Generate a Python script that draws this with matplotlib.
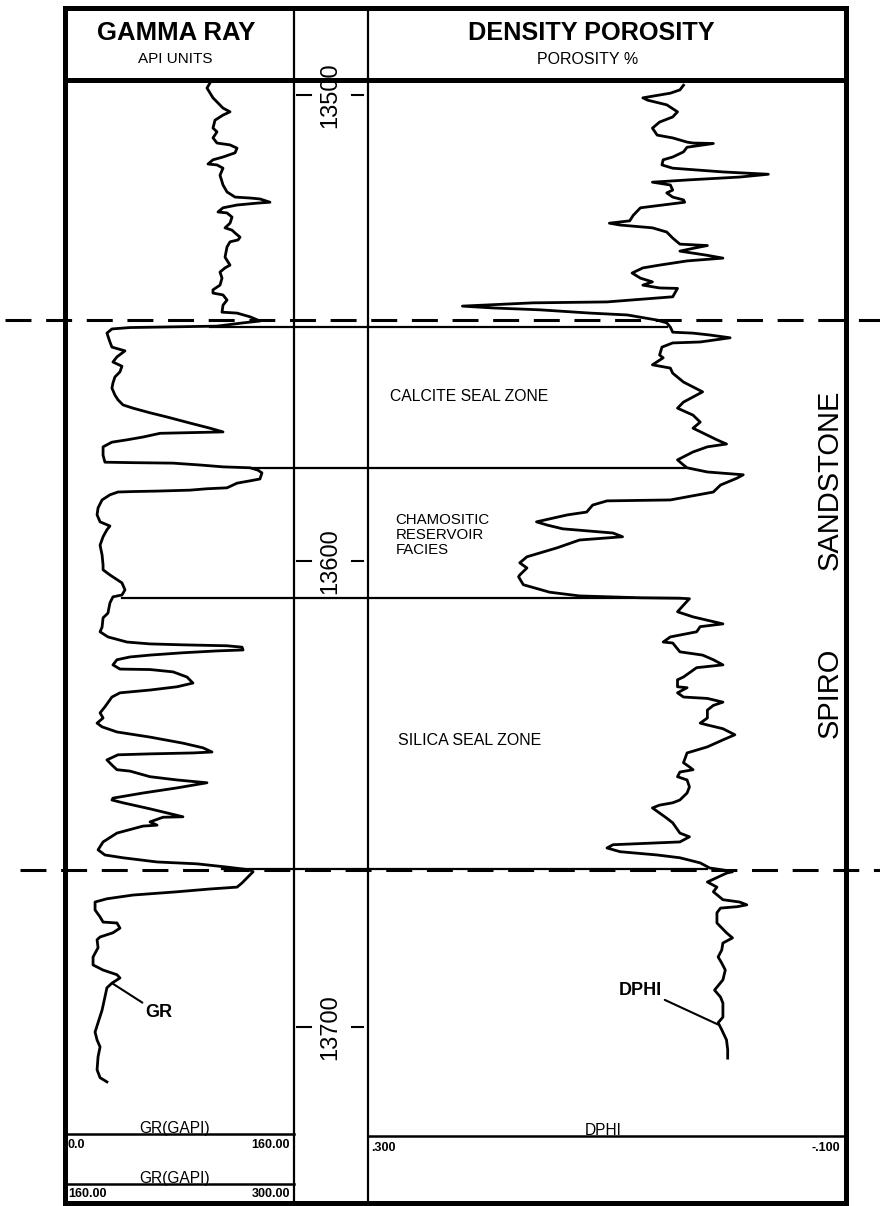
import matplotlib
matplotlib.use("Agg")
import matplotlib.pyplot as plt
import matplotlib.transforms as mtransforms
from matplotlib.lines import Line2D
from matplotlib import font_manager

plt.rcParams['font.family'] = ['Liberation Sans', 'DejaVu Sans']

# ---------------- data ----------------
GR_DEPTH = [
    13497.4, 13498.5, 13500.6, 13502.8, 13503.6, 13504.3, 13505.4, 13507.1, 13507.9, 13509.2,
    13510.3, 13510.7, 13511.4, 13512.4, 13513.3, 13513.9, 13514.8, 13515.0, 13515.7, 13517.2,
    13519.3, 13520.8, 13521.9, 13522.1, 13522.3, 13523.0, 13523.2, 13523.6, 13524.2, 13525.1,
    13525.3, 13526.2, 13527.5, 13528.5, 13529.0, 13529.6, 13530.5, 13531.1, 13531.5, 13532.6,
    13534.8, 13535.8, 13536.5, 13537.1, 13538.0, 13539.3, 13540.8, 13541.8, 13542.5, 13542.9,
    13544.0, 13545.1, 13546.6, 13546.8, 13547.6, 13548.5, 13548.9, 13549.6, 13549.8, 13549.9,
    13550.2, 13551.1, 13553.0, 13554.1, 13554.9, 13556.2, 13557.3, 13558.2, 13559.4, 13560.5,
    13561.8, 13562.9, 13564.4, 13565.4, 13566.5, 13567.2, 13568.2, 13569.1, 13570.4, 13571.5,
    13572.3, 13572.5, 13572.6, 13573.4, 13574.0, 13574.5, 13575.5, 13577.3, 13578.8, 13578.9,
    13579.0, 13579.4, 13579.8, 13580.0, 13580.5, 13581.1, 13582.4, 13582.8, 13583.3, 13584.3,
    13584.5, 13584.8, 13585.0, 13585.1, 13585.2, 13585.8, 13586.9, 13588.6, 13590.1, 13591.6,
    13592.5, 13593.3, 13594.8, 13596.6, 13598.7, 13600.9, 13601.9, 13603.0, 13604.7, 13606.2,
    13607.3, 13607.7, 13609.0, 13611.2, 13612.2, 13614.2, 13615.2, 13616.3, 13617.4, 13617.8,
    13618.0, 13618.2, 13618.5, 13619.1, 13619.3, 13619.7, 13620.2, 13620.6, 13621.2, 13622.3,
    13623.2, 13623.3, 13623.8, 13624.9, 13626.2, 13627.0, 13627.7, 13628.3, 13629.2, 13631.3,
    13632.6, 13633.7, 13634.8, 13635.6, 13636.7, 13637.8, 13639.1, 13640.1, 13641.0, 13641.2,
    13641.4, 13641.6, 13642.7, 13643.8, 13644.8, 13645.1, 13646.3, 13647.0, 13647.6, 13648.7,
    13649.8, 13650.9, 13651.3, 13651.9, 13653.2, 13654.9, 13655.0, 13656.0, 13656.7, 13656.9,
    13658.4, 13660.3, 13662.0, 13663.1, 13663.7, 13664.6, 13665.0, 13665.7, 13666.3, 13666.7,
    13668.0, 13669.1, 13670.0, 13670.4, 13671.0, 13671.7, 13672.5, 13673.2, 13674.9, 13676.4,
    13677.5, 13677.7, 13678.8, 13679.8, 13680.7, 13681.3, 13683.0, 13685.0, 13686.7, 13687.8,
    13688.8, 13689.5, 13690.6, 13691.6, 13693.6, 13696.4, 13699.1, 13701.1, 13702.8, 13704.3,
    13706.4, 13709.2, 13710.9, 13711.8,
]
GR_API = [
    101.3, 99.2, 103.4, 110.4, 115.3, 110.4, 104.8, 103.4, 106.2, 103.4,
    106.2, 115.3, 120.2, 118.8, 110.4, 103.4, 99.9, 106.2, 110.4, 108.3,
    110.4, 113.2, 118.8, 129.3, 136.2, 143.2, 134.2, 120.2, 110.4, 106.9,
    113.2, 116.7, 115.3, 111.8, 116.7, 118.8, 122.3, 120.9, 115.3, 113.2,
    111.8, 113.9, 115.3, 111.8, 108.3, 109.7, 108.3, 103.4, 103.4, 110.4,
    113.2, 110.4, 109.7, 120.2, 129.3, 136.2, 124.4, 106.2, 62.9, 45.4,
    32.8, 29.3, 31.4, 32.8, 41.9, 36.3, 33.5, 39.8, 38.4, 34.9,
    33.5, 32.8, 34.9, 37.0, 40.5, 47.5, 59.4, 71.3, 87.3, 101.3,
    110.4, 82.4, 66.4, 54.5, 43.3, 32.8, 26.6, 26.6, 27.9, 47.5,
    75.5, 94.3, 110.4, 129.3, 134.8, 137.6, 136.2, 129.3, 120.2, 113.2,
    99.2, 87.3, 64.3, 47.5, 37.0, 31.4, 25.9, 23.1, 22.4, 24.5,
    31.4, 29.3, 26.6, 24.5, 25.9, 26.6, 26.6, 31.4, 39.8, 41.9,
    39.8, 33.5, 31.4, 30.0, 26.6, 25.9, 24.5, 30.0, 43.3, 59.4,
    82.4, 113.2, 123.7, 124.4, 106.2, 82.4, 59.4, 45.4, 36.3, 33.5,
    38.4, 59.4, 75.5, 85.2, 89.4, 78.3, 59.4, 38.4, 32.8, 27.9,
    24.5, 26.6, 22.4, 25.9, 36.3, 59.4, 82.4, 96.4, 102.7, 89.4,
    59.4, 37.0, 29.3, 32.8, 36.3, 45.4, 59.4, 78.3, 99.2, 78.3,
    54.5, 33.5, 32.8, 40.5, 59.4, 82.4, 68.5, 59.4, 64.3, 54.5,
    36.3, 26.6, 23.1, 27.9, 40.5, 64.3, 92.2, 113.2, 129.3, 131.4,
    127.2, 123.7, 120.2, 101.3, 78.3, 47.5, 29.3, 21.0, 21.0, 24.5,
    26.6, 36.3, 38.4, 33.5, 24.5, 22.4, 23.1, 19.6, 19.6, 26.6,
    36.3, 38.4, 32.8, 29.3, 27.9, 25.9, 23.1, 21.0, 22.4, 24.5,
    23.1, 22.4, 24.5, 29.3,
]

DPHI_DEPTH = [
    13497.9, 13498.9, 13499.6, 13500.6, 13501.1, 13502.1, 13503.6, 13504.7, 13505.8, 13507.1,
    13508.6, 13509.2, 13510.1, 13510.3, 13510.4, 13511.2, 13512.2, 13513.3, 13513.9, 13515.0,
    13515.7, 13516.5, 13517.0, 13517.6, 13518.2, 13518.7, 13519.3, 13520.4, 13521.0, 13521.9,
    13522.5, 13523.0, 13523.2, 13524.2, 13525.8, 13527.0, 13527.5, 13527.9, 13528.5, 13529.4,
    13530.7, 13532.0, 13532.3, 13532.9, 13533.5, 13534.4, 13535.0, 13535.6, 13536.5, 13537.1,
    13538.2, 13539.3, 13540.1, 13540.8, 13541.4, 13541.5, 13543.3, 13544.4, 13544.6, 13545.3,
    13545.7, 13546.1, 13546.8, 13547.2, 13548.3, 13548.9, 13549.8, 13550.9, 13551.1, 13551.5,
    13552.1, 13553.0, 13553.2, 13554.1, 13555.8, 13556.4, 13557.9, 13558.6, 13559.7, 13561.6,
    13563.7, 13565.9, 13567.2, 13568.7, 13570.2, 13571.5, 13573.0, 13574.0, 13574.9, 13575.5,
    13576.6, 13578.3, 13579.4, 13580.0, 13580.9, 13581.5, 13582.2, 13583.7, 13585.2, 13586.9,
    13587.1, 13588.0, 13589.5, 13590.1, 13591.6, 13592.3, 13593.1, 13594.0, 13594.8, 13595.5,
    13597.2, 13599.1, 13600.4, 13601.5, 13603.0, 13603.4, 13605.1, 13606.7, 13607.5, 13607.9,
    13608.0, 13608.1, 13609.2, 13610.9, 13612.0, 13613.5, 13614.1, 13615.2, 13616.3, 13617.4,
    13617.6, 13619.5, 13620.2, 13621.2, 13622.3, 13622.9, 13624.9, 13625.5, 13627.0, 13627.2,
    13628.3, 13629.2, 13629.5, 13630.3, 13631.0, 13632.0, 13633.7, 13634.8, 13635.2, 13636.0,
    13637.3, 13638.4, 13639.9, 13641.2, 13643.3, 13644.2, 13644.8, 13645.3, 13646.3, 13647.0,
    13648.5, 13649.8, 13651.3, 13651.9, 13652.4, 13653.0, 13655.2, 13656.2, 13658.4, 13659.2,
    13660.3, 13660.5, 13660.9, 13661.6, 13662.4, 13663.1, 13663.7, 13664.8, 13665.9, 13666.3,
    13666.7, 13667.0, 13668.9, 13670.0, 13671.0, 13672.7, 13673.2, 13673.8, 13674.2, 13674.5,
    13675.5, 13677.7, 13679.8, 13680.9, 13682.0, 13683.5, 13685.0, 13686.3, 13687.8, 13689.9,
    13692.1, 13693.6, 13694.9, 13697.9, 13699.1, 13700.6, 13702.8, 13704.9, 13706.7,
]
DPHI_VAL = [
    0.036, 0.039, 0.047, 0.070, 0.066, 0.050, 0.041, 0.045, 0.056, 0.062,
    0.058, 0.045, 0.033, 0.028, 0.011, 0.033, 0.036, 0.045, 0.053, 0.054,
    0.045, 0.003, -0.035, -0.011, 0.031, 0.062, 0.047, 0.045, 0.050, 0.045,
    0.036, 0.035, 0.041, 0.072, 0.078, 0.081, 0.098, 0.089, 0.062, 0.050,
    0.045, 0.039, 0.016, 0.028, 0.039, 0.016, 0.003, 0.033, 0.056, 0.070,
    0.079, 0.072, 0.062, 0.070, 0.056, 0.041, 0.045, 0.100, 0.162, 0.221,
    0.195, 0.156, 0.114, 0.083, 0.058, 0.050, 0.047, 0.045, 0.028, 0.014,
    -0.003, 0.022, 0.045, 0.054, 0.056, 0.053, 0.062, 0.047, 0.045, 0.036,
    0.020, 0.036, 0.041, 0.028, 0.022, 0.028, 0.016, 0.008, 0.000, 0.016,
    0.028, 0.041, 0.036, 0.033, 0.016, -0.014, -0.009, 0.005, 0.011, 0.047,
    0.100, 0.112, 0.117, 0.133, 0.159, 0.150, 0.137, 0.095, 0.087, 0.123,
    0.142, 0.167, 0.173, 0.167, 0.173, 0.174, 0.170, 0.148, 0.123, 0.072,
    0.039, 0.031, 0.035, 0.041, 0.028, 0.003, 0.022, 0.025, 0.047, 0.053,
    0.045, 0.039, 0.020, 0.011, 0.003, 0.025, 0.036, 0.041, 0.041, 0.033,
    0.041, 0.036, 0.016, 0.003, 0.011, 0.016, 0.016, 0.022, 0.016, 0.003,
    -0.007, 0.003, 0.016, 0.033, 0.036, 0.031, 0.028, 0.039, 0.041, 0.033,
    0.031, 0.033, 0.039, 0.045, 0.056, 0.062, 0.050, 0.045, 0.039, 0.031,
    0.039, 0.058, 0.095, 0.100, 0.089, 0.058, 0.039, 0.022, 0.014, 0.003,
    -0.005, 0.000, 0.016, 0.008, 0.011, 0.003, -0.011, -0.017, -0.009, 0.005,
    0.008, 0.008, 0.000, -0.005, 0.003, 0.004, 0.007, 0.004, 0.001, 0.003,
    0.010, 0.005, 0.003, 0.003, 0.007, 0.004, 0.000, -0.001, -0.001,
]

DEPTH_TICKS = [13500, 13600, 13700]
DEPTH_RANGE = (13497.2, 13723.2)
GR_SCALE = (0.0, 160.0)
GR_BACKUP = (160.0, 300.0)
DPHI_SCALE = (0.300, -0.100)
GR_SCALE_LABELS = ["0.0", "160.00"]
GR_BACKUP_LABELS = ["160.00", "300.00"]
DPHI_SCALE_LABELS = [".300", "-.100"]

SPIRO_TOP = 13548.3
SPIRO_BASE = 13666.3
ZONE_DEPTHS = [13549.8, 13580.0, 13607.9, 13666.1]
ZONE_GR_START = [101.3, 131.0, 39.8, 110.0]
ZONE_DPHI_END = [0.050, 0.035, 0.039, 0.016]
ZONE_LABELS = ["CALCITE SEAL ZONE", "CHAMOSITIC\nRESERVOIR\nFACIES", "SILICA SEAL ZONE"]
ZONE_LABEL_DEPTHS = [13564.8, 13594.4, 13638.6]
ZONE_LABEL_DPHI = [0.282, 0.277, 0.275]
ZONE_LABEL_SIZES = [11.3, 10.8, 11.5]

# ---------------- figure / layout ----------------
W, H = 880, 1206
fig = plt.figure(figsize=(W / 100, H / 100), dpi=100)
fig.patch.set_facecolor("white")

def fx(px):
    return px / W

def fy(py):
    return 1 - py / H

def add_ax(x0, x1, y0, y1):
    ax = fig.add_axes([fx(x0), fy(y1), (x1 - x0) / W, (y1 - y0) / H])
    ax.set_axis_off()
    ax.set_ylim(DEPTH_RANGE[1], DEPTH_RANGE[0])
    return ax

def fline(xs, ys, lw, **kw):
    fig.add_artist(Line2D([fx(x) for x in xs], [fy(y) for y in ys],
                          transform=fig.transFigure, color="black", lw=lw,
                          solid_capstyle="projecting", **kw))

names = {f.name for f in font_manager.fontManager.ttflist}
HAS_NARROW = "Liberation Sans Narrow" in names

ax_gr = add_ax(65, 294, 82, 1135)
ax_gr.set_xlim(*GR_SCALE)
ax_dp = add_ax(294, 368, 82, 1135)
ax_dp.set_xlim(0, 1)
ax_ph = add_ax(368, 846, 82, 1135)
ax_ph.set_xlim(*DPHI_SCALE)

# frame
FR = 3.6
fline([65, 846], [8, 8], FR)
fline([65, 846], [1203, 1203], FR)
fline([65, 65], [8, 1203], FR)
fline([846, 846], [8, 1203], FR)
fline([65, 846], [80, 80], FR)
fline([294, 294], [8, 1203], 1.6)
fline([368, 368], [8, 1203], 1.6)
fline([65, 294], [1134, 1134], 1.8)
fline([65, 294], [1184, 1184], 1.8)
fline([368, 846], [1136, 1136], 1.8)

# headers
fig.text(fx(176), fy(33), "GAMMA RAY", ha="center", va="center", fontsize=18.5, fontweight="bold")
fig.text(fx(175), fy(59), "API UNITS", ha="center", va="center", fontsize=11)
fig.text(fx(591), fy(33), "DENSITY POROSITY", ha="center", va="center", fontsize=18.2, fontweight="bold")
fig.text(fx(588), fy(59), "POROSITY %", ha="center", va="center", fontsize=11.5)

# footer scales
fig.text(fx(175), fy(1133), "GR(GAPI)", ha="center", va="baseline", fontsize=11.2)
fig.text(fx(68), fy(1145), GR_SCALE_LABELS[0], ha="left", va="center", fontsize=9, fontweight="bold")
fig.text(fx(290), fy(1145), GR_SCALE_LABELS[1], ha="right", va="center", fontsize=9, fontweight="bold")
fig.text(fx(175), fy(1183), "GR(GAPI)", ha="center", va="baseline", fontsize=11.2)
fig.text(fx(68), fy(1194), GR_BACKUP_LABELS[0], ha="left", va="center", fontsize=9, fontweight="bold")
fig.text(fx(290), fy(1194), GR_BACKUP_LABELS[1], ha="right", va="center", fontsize=9, fontweight="bold")
fig.text(fx(603), fy(1135), "DPHI", ha="center", va="baseline", fontsize=11.2)
fig.text(fx(371), fy(1148), DPHI_SCALE_LABELS[0], ha="left", va="center", fontsize=9, fontweight="bold")
fig.text(fx(840), fy(1148), DPHI_SCALE_LABELS[1], ha="right", va="center", fontsize=9, fontweight="bold")

# depth track
for d in DEPTH_TICKS:
    ax_dp.plot([0.04, 0.23], [d, d], color="black", lw=1.5)
    ax_dp.plot([0.78, 0.93], [d, d], color="black", lw=1.5)
    if HAS_NARROW:
        ax_dp.text(0.49, d, f"{d}", rotation=90, ha="center", va="center",
                   fontsize=21, family=["Liberation Sans Narrow", "DejaVu Sans"], clip_on=False)
    else:
        ax_dp.text(0.49, d, f"{d}", rotation=90, ha="center", va="center",
                   fontsize=17, clip_on=False)

# curves
ax_gr.plot(GR_API, GR_DEPTH, color="black", lw=2.0, solid_joinstyle="round")
ax_ph.plot(DPHI_VAL, DPHI_DEPTH, color="black", lw=2.0, solid_joinstyle="round")

# zone boundaries (solid)
for d, g, p in zip(ZONE_DEPTHS, ZONE_GR_START, ZONE_DPHI_END):
    ax_gr.plot([g, GR_SCALE[1]], [d, d], color="black", lw=1.6, clip_on=False)
    ax_dp.plot([0, 1], [d, d], color="black", lw=1.6, clip_on=False)
    ax_ph.plot([DPHI_SCALE[0], p], [d, d], color="black", lw=1.6, clip_on=False)

# Spiro top / base dashed markers
trans = mtransforms.blended_transform_factory(fig.transFigure, ax_gr.transData)
fig.add_artist(Line2D([fx(5), fx(880)], [SPIRO_TOP, SPIRO_TOP], transform=trans,
                      color="black", lw=2.2, dashes=(8.5, 4.8)))
fig.add_artist(Line2D([fx(20), fx(880)], [SPIRO_BASE, SPIRO_BASE], transform=trans,
                      color="black", lw=2.2, dashes=(8.5, 4.8)))

# zone labels
for lab, d, p, s in zip(ZONE_LABELS, ZONE_LABEL_DEPTHS, ZONE_LABEL_DPHI, ZONE_LABEL_SIZES):
    ax_ph.text(p, d, lab, ha="left", va="center", fontsize=s, linespacing=1.08)

ax_ph.text(-0.086, 13582.6, "SANDSTONE", rotation=90, ha="center", va="center", fontsize=21)
ax_ph.text(-0.086, 13628.3, "SPIRO", rotation=90, ha="center", va="center", fontsize=21)

# curve name tags
ax_gr.annotate("GR", xy=(32.8, 13690.6), xytext=(56.0, 13697.0), ha="left", va="center",
               fontsize=13, fontweight="bold",
               arrowprops=dict(arrowstyle="-", lw=1.5, color="black", shrinkA=0, shrinkB=0,
                               relpos=(0.0, 1.0)))
ax_ph.annotate("DPHI", xy=(0.007, 13699.5), xytext=(0.054, 13692.1), ha="right", va="center",
               fontsize=13, fontweight="bold",
               arrowprops=dict(arrowstyle="-", lw=1.5, color="black", shrinkA=0, shrinkB=0,
                               relpos=(1.0, 0.0)))

fig.savefig("out.png", dpi=100, facecolor="white")
